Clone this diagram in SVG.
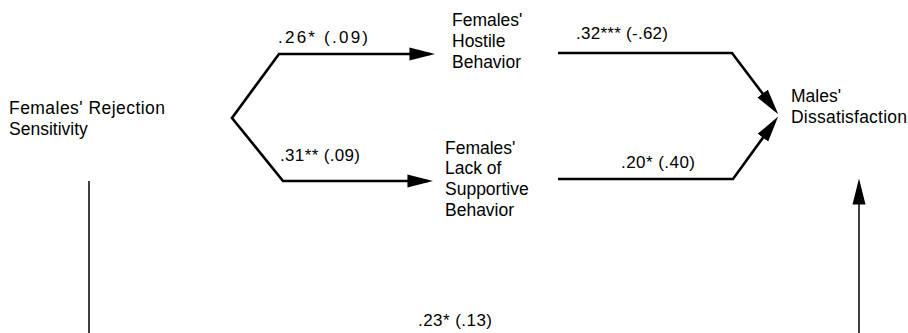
<svg xmlns="http://www.w3.org/2000/svg" width="908" height="333" viewBox="0 0 908 333">
<defs>
<style>
text{font-family:"Liberation Sans",Arial,sans-serif;font-size:17.5px;fill:#000;}
.lbl{font-size:17px;}
.thick{fill:none;stroke:#000;stroke-width:2.6;stroke-linejoin:miter;}
.thin{fill:none;stroke:#000;stroke-width:1.5;}
</style>
<marker id="ah" markerUnits="userSpaceOnUse" markerWidth="26" markerHeight="14" viewBox="0 0 24 12" refX="19" refY="6" orient="auto-start-reverse">
<path d="M0,0 L24,6 L0,12 z" fill="#000"/>
</marker>
</defs>
<rect width="908" height="333" fill="#fff"/>
<g id="connectors">
<path class="thick" d="M430,54 L279,54 L232,118 L283,181 L428,181" marker-start="url(#ah)" marker-end="url(#ah)"/>
<path class="thick" d="M558,53 L732,53 L775,110" marker-end="url(#ah)"/>
<path class="thick" d="M558,179 L733,179 L775,121" marker-end="url(#ah)"/>
<line class="thin" x1="89" y1="181" x2="89" y2="333"/>
<line class="thin" x1="859" y1="333" x2="859" y2="184" marker-end="url(#ah)"/>
<text class="lbl" x="278" y="43" textLength="90">.26* (.09)</text>
<text class="lbl" x="280" y="161" textLength="80">.31** (.09)</text>
<text class="lbl" x="576" y="39" textLength="92">.32*** (-.62)</text>
<text class="lbl" x="621" y="168" textLength="74">.20* (.40)</text>
<text class="lbl" x="418" y="326" textLength="74">.23* (.13)</text>
</g>
<g id="node-rejection">
<text x="9" y="114" textLength="156">Females' Rejection</text>
<text x="9" y="135">Sensitivity</text>
</g>
<g id="node-hostile">
<text x="452" y="26">Females'</text>
<text x="452" y="47">Hostile</text>
<text x="452" y="68">Behavior</text>
</g>
<g id="node-lack">
<text x="445" y="154">Females'</text>
<text x="445" y="174">Lack of</text>
<text x="445" y="195">Supportive</text>
<text x="445" y="216">Behavior</text>
</g>
<g id="node-dissatisfaction">
<text x="791" y="102">Males'</text>
<text x="791" y="123" textLength="116">Dissatisfaction</text>
</g>
</svg>
